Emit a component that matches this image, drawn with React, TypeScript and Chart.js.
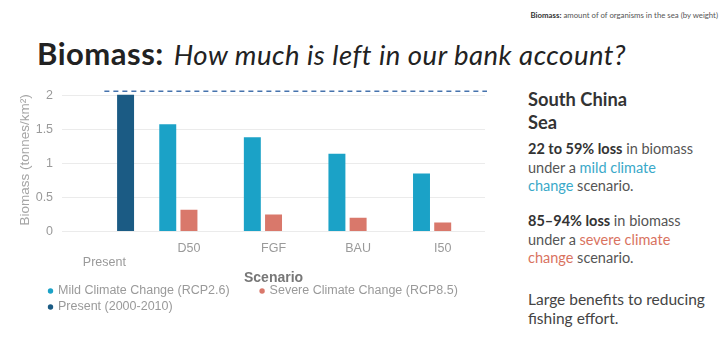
import React, { useEffect, useRef, useState } from "react";
import { Chart, registerables } from "chart.js";

Chart.register(...registerables);

// ---- data ----
const categories: (string | string[])[] = [["", "Present"], "D50", "FGF", "BAU", "I50"];
const mildValues = [null, 1.575, 1.385, 1.14, 0.85];
const severeValues = [null, 0.32, 0.25, 0.2, 0.13];
const presentValues = [2.01, null, null, null, null];
const presentReference = 2.06;
const seriesLabels = [
  "Mild Climate Change (RCP2.6)",
  "Severe Climate Change (RCP8.5)",
  "Present (2000-2010)",
];
const yTicks = [0, 0.5, 1, 1.5, 2];

const MILD = "#1ba2c7";
const SEVERE = "#d9786b";
const PRESENT = "#1b5b84";
const CHART_FONT = "'Liberation Sans', Arial, sans-serif";
const TEXT_FONT = "Lato, 'Open Sans', sans-serif";

const presentLine = {
  id: "presentLine",
  afterDatasetsDraw(chart: any) {
    const { ctx, chartArea, scales } = chart;
    const py = scales.y.getPixelForValue(presentReference);
    const x0 = scales.x.getPixelForValue(0);
    ctx.save();
    ctx.strokeStyle = "#4673ad";
    ctx.lineWidth = 1.6;
    ctx.setLineDash([5, 4]);
    ctx.beginPath();
    ctx.moveTo(x0, py);
    ctx.lineTo(chartArea.right + 2, py);
    ctx.stroke();
    ctx.restore();
  },
};

const customLegend = {
  id: "customLegend",
  afterDraw(chart: any) {
    const ctx = chart.ctx;
    ctx.save();
    ctx.font = "12.5px " + CHART_FONT;
    ctx.textBaseline = "middle";
    const startX = 48;
    const maxX = 470;
    let x = startX;
    let y = 219;
    chart.data.datasets.forEach((ds: any) => {
      const w = 10 + ctx.measureText(ds.label).width;
      if (x + w > maxX && x > startX) {
        x = startX;
        y += 16;
      }
      ctx.fillStyle = ds.backgroundColor;
      ctx.beginPath();
      ctx.arc(x + 2.5, y, 2.7, 0, Math.PI * 2);
      ctx.fill();
      ctx.fillStyle = "#9a9a9a";
      ctx.fillText(ds.label, x + 10, y);
      x += w + 30;
    });
    ctx.restore();
  },
};

function BiomassChart() {
  const ref = useRef<HTMLCanvasElement | null>(null);
  const [err, setErr] = useState("");
  useEffect(() => {
    if (!ref.current) return;
    let chart: any = null;
    try {
      chart = new Chart(ref.current, {
        type: "bar",
        data: {
          labels: categories as any,
          datasets: [
            { label: seriesLabels[0], data: mildValues as any, backgroundColor: MILD },
            { label: seriesLabels[1], data: severeValues as any, backgroundColor: SEVERE },
            { label: seriesLabels[2], data: presentValues as any, backgroundColor: PRESENT },
          ],
        },
        options: {
          animation: false,
          responsive: true,
          maintainAspectRatio: false,
          layout: { padding: { left: 14, right: 20, top: 10, bottom: 31 } },
          datasets: { bar: { categoryPercentage: 0.752, barPercentage: 0.8 } } as any,
          plugins: { legend: { display: false }, tooltip: { enabled: false } },
          scales: {
            x: {
              grid: { display: false, drawTicks: false },
              border: { display: false },
              ticks: {
                color: "#9a9a9a",
                font: { family: CHART_FONT, size: 12.5, lineHeight: 1.15 },
                padding: 10,
                maxRotation: 0,
                autoSkip: false,
              },
              title: {
                display: true,
                text: "Scenario",
                color: "#777",
                font: { family: CHART_FONT, size: 14, weight: "bold", lineHeight: 1.2 },
                padding: { top: -10, bottom: 0 },
              },
            },
            y: {
              min: 0,
              max: 2.1,
              grid: { color: "#ebebeb", drawTicks: false },
              border: { display: false },
              afterBuildTicks: (scale: any) => {
                scale.ticks = yTicks.map((v) => ({ value: v }));
              },
              ticks: {
                color: "#9a9a9a",
                font: { family: CHART_FONT, size: 12.5 },
                padding: 9,
                callback: (v: any) => String(v),
              },
              title: {
                display: true,
                text: "Biomass (tonnes/km²)",
                color: "#a5a5a5",
                font: { family: CHART_FONT, size: 13.5 },
                padding: { top: 3.5, bottom: -7 },
              },
            },
          },
        },
        plugins: [presentLine, customLegend],
      } as any);
    } catch (e: any) {
      setErr(String(e && e.stack ? e.stack : e));
    }
    return () => {
      if (chart) chart.destroy();
    };
  }, []);
  return (
    <div style={{ position: "absolute", left: 0, top: 72, width: 505, height: 246 }}>
      <canvas ref={ref} />
      {err ? <pre style={{ fontSize: 9, position: "absolute", top: 0, left: 0 }}>{err}</pre> : null}
    </div>
  );
}

function abs(left: number, top: number, extra: any): any {
  return Object.assign(
    { position: "absolute", left: left, top: top, whiteSpace: "nowrap", fontFamily: TEXT_FONT },
    extra || {}
  );
}

export default function App() {
  const para = { fontSize: 14.5, lineHeight: "18.5px", color: "#555" };
  return (
    <div>
      <div
        style={{
          position: "absolute",
          right: 6,
          top: 10,
          fontFamily: TEXT_FONT,
          fontSize: 7.8,
          color: "#555",
          whiteSpace: "nowrap",
        }}
      >
        <b style={{ color: "#333" }}>Biomass:</b> amount of of organisms in the sea (by weight)
      </div>
      <div style={abs(37, 35, { lineHeight: "36px", color: "#222" })}>
        <span style={{ fontSize: 31, fontWeight: 700, letterSpacing: 0.5 }}>Biomass:</span>
        <span style={{ fontSize: 27.5, fontStyle: "italic", marginLeft: 10, letterSpacing: 0.5 }}>
          How much is left in our bank account?
        </span>
      </div>
      <BiomassChart />
      <div style={abs(528, 88, { fontSize: 18.3, fontWeight: 700, lineHeight: "23px", color: "#333" })}>
        South China
        <br />
        Sea
      </div>
      <div style={abs(528, 140, para)}>
        <b style={{ color: "#333" }}>22 to 59% loss</b> in biomass
        <br />
        under a <span style={{ color: "#3aa9c9" }}>mild climate</span>
        <br />
        <span style={{ color: "#3aa9c9" }}>change</span> scenario.
      </div>
      <div style={abs(528, 212, para)}>
        <b style={{ color: "#333" }}>85–94% loss</b> in biomass
        <br />
        under a <span style={{ color: "#d9735f" }}>severe climate</span>
        <br />
        <span style={{ color: "#d9735f" }}>change</span> scenario.
      </div>
      <div style={abs(528, 290, Object.assign({}, para, { color: "#444", fontSize: 15.5 }))}>
        Large benefits to reducing
        <br />
        fishing effort.
      </div>
    </div>
  );
}
